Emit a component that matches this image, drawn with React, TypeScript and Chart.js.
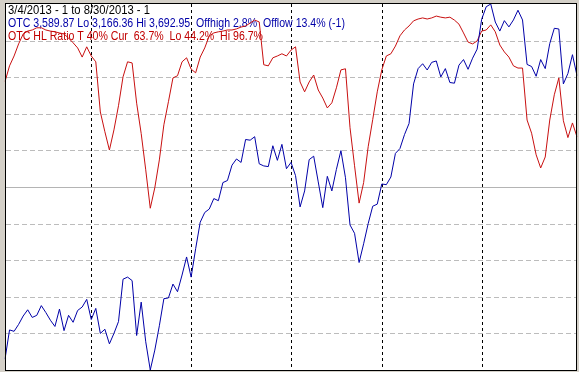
import React, { useEffect, useRef } from "react";
import { Chart, registerables } from "chart.js";

Chart.register(...registerables);

// OTC (Nasdaq composite) daily close, 3/4/2013 .. 8/30/2013
const otcClose = [
  3182, 3224, 3222, 3232, 3244, 3253, 3242, 3245, 3259, 3249,
  3238, 3229, 3254, 3223, 3245, 3235, 3252, 3257, 3268, 3239,
  3255, 3219, 3225, 3204, 3219, 3236, 3297, 3300, 3295, 3216,
  3264, 3207, 3166.36, 3195, 3230, 3269, 3270, 3290, 3279, 3303,
  3329, 3300, 3341, 3379, 3393, 3398, 3413, 3410, 3436, 3439,
  3461, 3470, 3465, 3498, 3497, 3502, 3463, 3460, 3459, 3489,
  3468, 3491, 3456, 3465, 3446, 3401, 3424, 3469, 3474, 3437,
  3400, 3445, 3424, 3455, 3482, 3443, 3375, 3363, 3321, 3348,
  3377, 3402, 3405, 3434, 3433, 3444, 3478, 3485, 3505, 3521,
  3578, 3600, 3607, 3598, 3609, 3611, 3588, 3600, 3580, 3579,
  3605, 3613, 3599, 3615, 3628, 3671, 3689, 3692.95, 3667, 3654,
  3669, 3660, 3670, 3684, 3670, 3606, 3603, 3589, 3613, 3600,
  3636, 3658, 3657, 3578, 3593, 3620, 3589.87,
];

// OTC HL Ratio (%)
const hlRatio = [
  78.8, 83.1, 85.8, 89.1, 91.8, 92.6, 92.9, 93.5, 93.5, 92.9,
  92.6, 92.4, 92.1, 91.8, 90.7, 89.4, 88.0, 85.5, 88.3, 85.8,
  84.2, 70.5, 65.1, 60.1, 65.6, 72.2, 80.1, 84.2, 83.9, 72.9,
  64.6, 54.7, 44.2, 49.8, 57.4, 67.0, 73.3, 79.8, 80.4, 84.2,
  85.3, 82.2, 81.2, 85.5, 88.0, 91.3, 92.1, 92.4, 92.6, 92.9,
  92.9, 93.2, 93.7, 94.0, 94.8, 95.6, 95.1, 83.4, 83.1, 85.3,
  85.8, 86.4, 85.8, 87.4, 88.3, 78.7, 76.0, 78.7, 80.6, 76.5,
  74.3, 71.6, 73.0, 77.1, 82.0, 82.3, 66.2, 55.8, 45.6, 51.2,
  61.0, 68.4, 76.0, 82.0, 85.8, 86.4, 88.5, 91.3, 92.9, 94.0,
  95.4, 95.9, 96.2, 95.9, 96.2, 96.7, 96.4, 96.2, 96.4, 95.6,
  94.5, 92.1, 89.6, 89.1, 89.9, 92.6, 92.9, 94.3, 92.4, 88.8,
  86.9, 85.5, 83.1, 82.5, 82.5, 68.3, 64.7, 58.8, 55.2, 58.2,
  68.3, 75.2, 79.8, 68.1, 63.5, 67.5, 63.7,
];

// first trading day of each month (index into the series)
const monthStarts = [19, 41, 63, 83, 105];

const ratioGrid = [10, 20, 30, 40, 50, 60, 70, 80, 90];

const otcLo = 3166.36;
const otcHi = 3692.95;

const headerLines = [
  { text: "3/4/2013 - 1 to 8/30/2013 - 1", color: "#000000", width: 142 },
  {
    text: "OTC 3,589.87 Lo 3,166.36 Hi 3,692.95  Offhigh 2.8%  Offlow 13.4% (-1)",
    color: "#0000a8",
    width: 337,
  },
  {
    text: "OTC HL Ratio T 40% Cur  63.7%  Lo 44.2%  Hi 96.7%",
    color: "#c00000",
    width: 255,
  },
];

const labels = otcClose.map((_, i) => String(i));

const framePlugin = {
  id: "frame",
  beforeDraw(chart: any) {
    const { ctx, chartArea: a, width, height } = chart;
    const yR = chart.scales.yR;
    const x = chart.scales.x;
    ctx.save();
    ctx.fillStyle = "#d4d0c8";
    ctx.fillRect(0, 0, width, height);
    ctx.fillStyle = "#ffffff";
    ctx.fillRect(5, 3, 572, 368);

    // horizontal grid
    ctx.lineWidth = 1;
    for (const v of ratioGrid) {
      const py = Math.round(yR.getPixelForValue(v)) + 0.5;
      ctx.beginPath();
      if (v === 50) {
        ctx.setLineDash([]);
        ctx.strokeStyle = "#b4b4b4";
      } else {
        ctx.setLineDash([5, 3]);
        ctx.strokeStyle = "#bcbcbc";
      }
      ctx.moveTo(6, py);
      ctx.lineTo(576, py);
      ctx.stroke();
    }

    // month separators
    ctx.setLineDash([3, 3]);
    ctx.strokeStyle = "#000000";
    for (const idx of monthStarts) {
      const px = Math.round(x.getPixelForValue(idx)) + 0.5;
      ctx.beginPath();
      ctx.moveTo(px, 4);
      ctx.lineTo(px, 370);
      ctx.stroke();
    }
    ctx.setLineDash([]);

    // header text
    ctx.font = '12px "Liberation Sans", Arial, sans-serif';
    ctx.textBaseline = "alphabetic";
    ctx.textAlign = "left";
    headerLines.forEach((l, i) => {
      ctx.fillStyle = l.color;
      ctx.fillText(l.text, 8, 13.5 + i * 13.3, l.width);
    });
    ctx.restore();
  },
  afterDraw(chart: any) {
    const { ctx } = chart;
    ctx.save();
    ctx.strokeStyle = "#000000";
    ctx.lineWidth = 1;
    ctx.setLineDash([]);
    ctx.strokeRect(5.5, 3.5, 571, 367);
    ctx.restore();
  },
};

export default function App() {
  const ref = useRef<HTMLCanvasElement | null>(null);

  useEffect(() => {
    if (!ref.current) return;
    const chart = new Chart(ref.current, {
      type: "line",
      data: {
        labels,
        datasets: [
          {
            label: "OTC",
            data: otcClose,
            yAxisID: "yB",
            borderColor: "#0000a8",
            borderWidth: 1,
            pointRadius: 0,
            tension: 0,
            fill: false,
          },
          {
            label: "OTC HL Ratio",
            data: hlRatio,
            yAxisID: "yR",
            borderColor: "#c81010",
            borderWidth: 1,
            pointRadius: 0,
            tension: 0,
            fill: false,
          },
        ],
      },
      options: {
        responsive: false,
        animation: false,
        devicePixelRatio: 1,
        layout: { autoPadding: false, padding: { left: 5, right: 2, top: 4, bottom: 2 } },
        plugins: {
          legend: { display: false },
          tooltip: { enabled: false },
          title: { display: false },
        },
        events: [],
        scales: {
          x: { type: "category", display: false, offset: false },
          yR: { type: "linear", display: false, min: 0, max: 100 },
          yB: { type: "linear", display: false, min: otcLo, max: otcHi },
        },
      },
      plugins: [framePlugin],
    });
    return () => chart.destroy();
  }, []);

  return (
    <div style={{ position: "absolute", left: 0, top: 0, width: 579, height: 372, background: "#d4d0c8" }}>
      <canvas ref={ref} width={579} height={372} style={{ display: "block" }} />
    </div>
  );
}
